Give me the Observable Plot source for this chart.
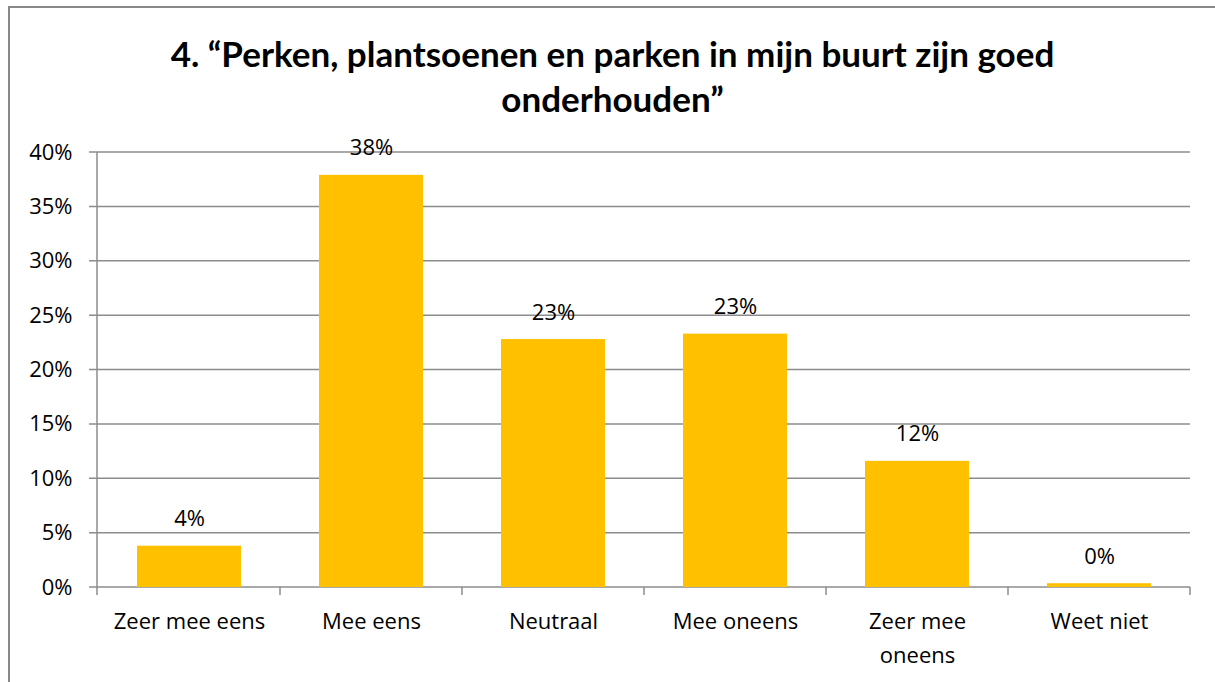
<!DOCTYPE html>
<html>
<head>
<meta charset="utf-8">
<script src="https://cdn.jsdelivr.net/npm/d3@7"></script>
<script src="https://cdn.jsdelivr.net/npm/@observablehq/plot@0.6"></script>
<style>
  html, body { margin: 0; padding: 0; background: #fff; overflow: hidden; }
  body { width: 1215px; height: 682px; position: relative; font-family: Lato, "Open Sans", sans-serif; }
  #frame { position: absolute; left: 8px; top: 6px; width: 1205px; height: 676px; border-left: 2px solid #888; border-top: 2px solid #888; }
  #title { position: absolute; left: 10px; top: 31px; width: 1205px; text-align: center; font-weight: 700; font-size: 35px; line-height: 45px; color: #000; }
  #chart { position: absolute; left: 0; top: 120px; }
</style>
</head>
<body>
<div id="frame"></div>
<div id="title">4. “Perken, plantsoenen en parken in mijn buurt zijn goed<br>onderhouden”</div>
<div id="chart"></div>
<script>
const categories = ["Zeer mee eens", "Mee eens", "Neutraal", "Mee oneens", "Zeer mee oneens", "Weet niet"];
const values = [3.8, 37.9, 22.8, 23.3, 11.6, 0.35];
const valueLabels = ["4%", "38%", "23%", "23%", "12%", "0%"];
const yTicks = [0, 5, 10, 15, 20, 25, 30, 35, 40];
const xTickLabels = ["Zeer mee eens", "Mee eens", "Neutraal", "Mee oneens", "Zeer mee\noneens", "Weet niet"];

const data = categories.map((c, i) => ({cat: c, value: values[i], label: valueLabels[i]}));

const W = 1215, H = 562, mL = 97, mR = 25, mT = 32, mB = 95;
const grid = "#8c8c8c";
const font = "'Open Sans', Lato, sans-serif";

const plot = Plot.plot({
  width: W, height: H,
  marginLeft: mL, marginRight: mR, marginTop: mT, marginBottom: mB,
  style: {fontFamily: font, fontSize: "22px", color: "#000", background: "transparent", overflow: "visible"},
  x: {domain: categories, paddingInner: 0.43, paddingOuter: 0.215, label: null},
  y: {domain: [0, 40], label: null},
  marks: [
    Plot.ruleY(yTicks, {y: d => d, stroke: grid, strokeWidth: 1.5,
      render: (index, scales, values, dims, ctx) => {
        const g = d3.select(ctx.document.createElementNS("http://www.w3.org/2000/svg", "g"));
        for (const i of index) {
          g.append("line").attr("x1", dims.marginLeft - 8).attr("x2", dims.width - dims.marginRight)
            .attr("y1", values.y[i]).attr("y2", values.y[i])
            .attr("stroke", grid).attr("stroke-width", 1.5);
        }
        return g.node();
      }}),
    Plot.barY(data, {x: "cat", y: "value", fill: "#FFC000"}),
    Plot.ruleX(categories, {x: d => d, stroke: grid, strokeWidth: 1.5,
      render: (index, scales, values, dims, ctx) => {
        const g = d3.select(ctx.document.createElementNS("http://www.w3.org/2000/svg", "g"));
        const y0 = scales.y(0), y1 = scales.y(40);
        const step = scales.x.step ? scales.x.step() : (dims.width - dims.marginLeft - dims.marginRight) / categories.length;
        g.append("line").attr("x1", dims.marginLeft).attr("x2", dims.marginLeft).attr("y1", y1).attr("y2", y0 + 8).attr("stroke", grid).attr("stroke-width", 1.5);
        for (const i of index) {
          const x = scales.x(categories[i]) + scales.x.bandwidth() / 2 + step / 2;
          g.append("line").attr("x1", x).attr("x2", x).attr("y1", y0).attr("y2", y0 + 8).attr("stroke", grid).attr("stroke-width", 1.5);
        }
        return g.node();
      }}),
    Plot.text(data, {x: "cat", y: "value", text: "label", dy: -27, fontSize: 22, fill: "#000"}),
    Plot.axisY({ticks: yTicks, tickFormat: d => d + "%", tickSize: 0, tickPadding: 25, fontSize: 22, fill: "#000"}),
    Plot.axisX({tickSize: 0, tickPadding: 17, fontSize: 22, fill: "#000", lineHeight: 1.55,
      tickFormat: d => xTickLabels[categories.indexOf(d)]})
  ]
});
document.getElementById("chart").appendChild(plot);
</script>
</body>
</html>
